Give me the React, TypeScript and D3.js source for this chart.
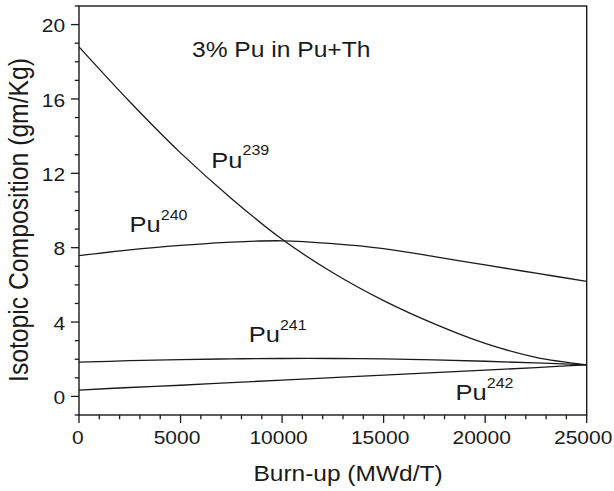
import React from "react";
import * as d3 from "d3";

// Burn-up steps (MWd/T) and isotopic composition (gm/Kg) for each Pu isotope
const burnup = [0, 2500, 5000, 7500, 10000, 12500, 15000, 17500, 20000, 22500, 25000];
const pu239 = [18.8, 15.85, 13.1, 10.65, 8.45, 6.65, 5.15, 3.9, 2.85, 2.1, 1.7];
const pu240 = [7.57, 7.88, 8.12, 8.3, 8.37, 8.22, 7.95, 7.52, 7.07, 6.63, 6.19];
const pu241 = [1.84, 1.92, 1.98, 2.02, 2.04, 2.04, 2.02, 1.96, 1.89, 1.8, 1.7];
const pu242 = [0.34, 0.48, 0.6, 0.74, 0.88, 1.01, 1.14, 1.28, 1.41, 1.55, 1.7];

const xMajorTicks = [0, 5000, 10000, 15000, 20000, 25000];
const yMajorTicks = [0, 4, 8, 12, 16, 20];

const seriesNames = ["239", "240", "241", "242"];
const seriesValues = [pu239, pu240, pu241, pu242];

const W = 614;
const H = 491;
const M = { left: 79, right: 27.3, top: 6, bottom: 76 };
const FONT = "'Liberation Sans', Arial, Helvetica, sans-serif";
const SY = 0.87; // vertical squash applied to all lettering
const INK = "#1a1a1a";

const x = d3.scaleLinear().domain([0, 25000]).range([M.left, W - M.right]);
const y = d3.scaleLinear().domain([-1, 21]).range([H - M.bottom, M.top]);

const line = d3
  .line<number>()
  .x((_, i) => x(burnup[i]))
  .y((d) => y(d))
  .curve(d3.curveCatmullRom.alpha(0.5));

// Isotope label anchors in data units
const labelPos: [number, number][] = [
  [6515, 12.28],
  [2490, 8.82],
  [8360, 2.91],
  [18545, -0.21],
];

function Txt(props: {
  x: number;
  y: number;
  size: number;
  anchor?: string;
  rotate?: boolean;
  children: React.ReactNode;
}) {
  const t = `translate(${props.x},${props.y}) scale(1,${SY})${props.rotate ? " rotate(-90)" : ""}`;
  return (
    <text
      transform={t}
      fontFamily={FONT}
      fontSize={props.size}
      textAnchor={props.anchor ?? "start"}
      fill={INK}
    >
      {props.children}
    </text>
  );
}

export default function App() {
  const x0 = x.range()[0];
  const x1 = x.range()[1];
  const y0 = y.range()[0];
  const y1 = y.range()[1];

  const xMinor = d3.range(0, 25001, 1000).filter((v) => !xMajorTicks.includes(v));
  const yMinor = d3.range(-1, 22, 1).filter((v) => !yMajorTicks.includes(v));

  return (
    <svg
      width={W}
      height={H}
      style={{ position: "absolute", left: 0, top: 0, background: "#fff" }}
    >
      <rect x={0} y={0} width={W} height={H} fill="#fff" />

      {/* curves */}
      <g fill="none" stroke={INK} strokeWidth={1.3}>
        {seriesValues.map((vals, i) => (
          <path key={seriesNames[i]} d={line(vals) ?? ""} />
        ))}
      </g>

      {/* frame */}
      <rect
        x={x0}
        y={y1}
        width={x1 - x0}
        height={y0 - y1}
        fill="none"
        stroke={INK}
        strokeWidth={1.4}
      />

      {/* ticks */}
      <g stroke={INK} strokeWidth={1.3}>
        {xMajorTicks.map((v) => (
          <line key={"xM" + v} x1={x(v)} x2={x(v)} y1={y0} y2={y0 + 8} />
        ))}
        {xMinor.map((v) => (
          <line key={"xm" + v} x1={x(v)} x2={x(v)} y1={y0} y2={y0 + 4.3} />
        ))}
        {yMajorTicks.map((v) => (
          <line key={"yM" + v} x1={x0 - 8} x2={x0} y1={y(v)} y2={y(v)} />
        ))}
        {yMinor.map((v) => (
          <line key={"ym" + v} x1={x0 - 4.3} x2={x0} y1={y(v)} y2={y(v)} />
        ))}
      </g>

      {/* tick labels */}
      {xMajorTicks.map((v) => (
        <Txt key={"xl" + v} x={x(v) - (v === 0 ? 1.2 : 3.5)} y={444} size={21} anchor="middle">
          {String(v)}
        </Txt>
      ))}
      {yMajorTicks.map((v) => (
        <Txt key={"yl" + v} x={65.2} y={y(v) + 7.8} size={21} anchor="end">
          {String(v)}
        </Txt>
      ))}

      {/* axis titles */}
      <Txt x={348} y={481} size={24.5} anchor="middle">
        Burn-up (MWd/T)
      </Txt>
      <Txt x={28.3} y={220} size={28.4} anchor="middle" rotate>
        Isotopic Composition (gm/Kg)
      </Txt>

      {/* annotation */}
      <Txt x={192} y={56.5} size={24.6}>
        3% Pu in Pu+Th
      </Txt>

      {/* isotope labels */}
      {seriesNames.map((n, i) => (
        <Txt key={"lab" + n} x={x(labelPos[i][0])} y={y(labelPos[i][1])} size={25.5}>
          <tspan>Pu</tspan>
          <tspan fontSize={16} dy={-14.6}>
            {n}
          </tspan>
        </Txt>
      ))}
    </svg>
  );
}
